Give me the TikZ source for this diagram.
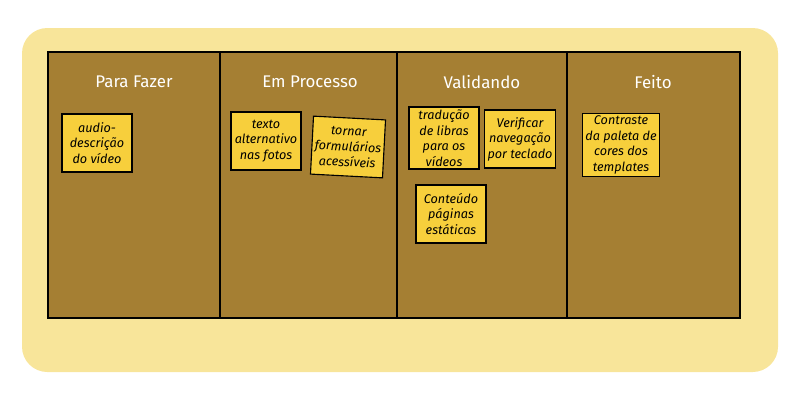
\documentclass[tikz,border=0pt]{standalone}
\usepackage{fontspec}
\setmainfont{Fira Sans}
\usetikzlibrary{positioning, calc}

\definecolor{paper}{HTML}{F8E59A}
\definecolor{board}{HTML}{A57F33}
\definecolor{sticky}{HTML}{F7CF3C}

\tikzset{
	x=0.025cm, y=-0.025cm,
	column/.style={draw=black, line width=1pt, fill=board, inner sep=0pt},
	header/.style={text=white, font=\large},
	note/.style={draw=black, line width=0.8pt, fill=sticky, align=center,
		font=\small\itshape, inner sep=2pt, minimum width=1.75cm, minimum height=1.45cm}
}

\begin{document}
\begin{tikzpicture}
			\useasboundingbox (0,0) rectangle (800,402);
			\fill[paper, rounded corners=18pt] (22,28) rectangle (778,372);
			
			\node[column, minimum width=4.3cm, minimum height=6.65cm] (fazer) at (134,185) {};
			\node[column, minimum width=4.425cm, minimum height=6.65cm] (processo) at (308.5,185) {};
			\node[column, minimum width=4.25cm, minimum height=6.65cm] (validando) at (482,185) {};
			\node[column, minimum width=4.325cm, minimum height=6.65cm] (feito) at (653.5,185) {};
			
			\node[header] (h1) at (134,82) {Para Fazer};
			\node[header] (h2) at (310,82) {Em Processo};
			\node[header] (h3) at (482,82) {Validando};
			\node[header] (h4) at (653,82) {Feito};
			
			\node[note] (audio) at (97,143) {audio-\\descrição\\do vídeo};
			\node[note] (texto) at (266,141) {texto\\alternativo\\nas fotos};
			\node[note, rotate=-3] (form) at (348,147) {tornar\\formulários\\acessíveis};
			\node[note] (libras) at (444,138) {tradução\\de libras\\para os\\vídeos};
			\node[note] (teclado) at (520,139) {Verificar\\navegação\\por teclado};
			\node[note] (conteudo) at (451,214) {Conteúdo\\páginas\\estáticas};
			\node[note] (contraste) at (621,145) {Contraste\\da paleta de\\cores dos\\templates};
		\end{tikzpicture}
\end{document}
